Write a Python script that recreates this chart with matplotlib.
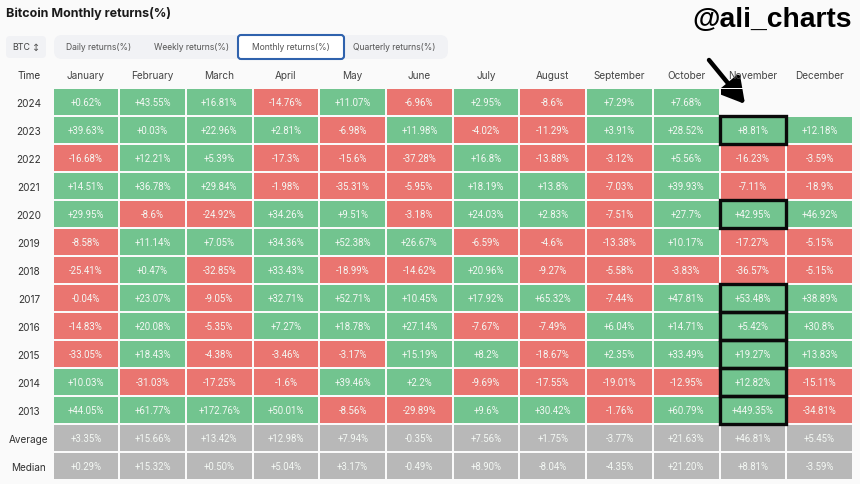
import matplotlib
matplotlib.use("Agg")
import numpy as np
import matplotlib.pyplot as plt
from matplotlib.colors import ListedColormap
from matplotlib.patches import FancyBboxPatch, Rectangle

months = ["January", "February", "March", "April", "May", "June", "July",
          "August", "September", "October", "November", "December"]
row_names = ["2024", "2023", "2022", "2021", "2020", "2019", "2018", "2017",
             "2016", "2015", "2014", "2013", "Average", "Median"]

r2024 = ["+0.62", "+43.55", "+16.81", "-14.76", "+11.07", "-6.96", "+2.95", "-8.6", "+7.29", "+7.68", "", ""]
r2023 = ["+39.63", "+0.03", "+22.96", "+2.81", "-6.98", "+11.98", "-4.02", "-11.29", "+3.91", "+28.52", "+8.81", "+12.18"]
r2022 = ["-16.68", "+12.21", "+5.39", "-17.3", "-15.6", "-37.28", "+16.8", "-13.88", "-3.12", "+5.56", "-16.23", "-3.59"]
r2021 = ["+14.51", "+36.78", "+29.84", "-1.98", "-35.31", "-5.95", "+18.19", "+13.8", "-7.03", "+39.93", "-7.11", "-18.9"]
r2020 = ["+29.95", "-8.6", "-24.92", "+34.26", "+9.51", "-3.18", "+24.03", "+2.83", "-7.51", "+27.7", "+42.95", "+46.92"]
r2019 = ["-8.58", "+11.14", "+7.05", "+34.36", "+52.38", "+26.67", "-6.59", "-4.6", "-13.38", "+10.17", "-17.27", "-5.15"]
r2018 = ["-25.41", "+0.47", "-32.85", "+33.43", "-18.99", "-14.62", "+20.96", "-9.27", "-5.58", "-3.83", "-36.57", "-5.15"]
r2017 = ["-0.04", "+23.07", "-9.05", "+32.71", "+52.71", "+10.45", "+17.92", "+65.32", "-7.44", "+47.81", "+53.48", "+38.89"]
r2016 = ["-14.83", "+20.08", "-5.35", "+7.27", "+18.78", "+27.14", "-7.67", "-7.49", "+6.04", "+14.71", "+5.42", "+30.8"]
r2015 = ["-33.05", "+18.43", "-4.38", "-3.46", "-3.17", "+15.19", "+8.2", "-18.67", "+2.35", "+33.49", "+19.27", "+13.83"]
r2014 = ["+10.03", "-31.03", "-17.25", "-1.6", "+39.46", "+2.2", "-9.69", "-17.55", "-19.01", "-12.95", "+12.82", "-15.11"]
r2013 = ["+44.05", "+61.77", "+172.76", "+50.01", "-8.56", "-29.89", "+9.6", "+30.42", "-1.76", "+60.79", "+449.35", "-34.81"]
average = ["+3.35", "+15.66", "+13.42", "+12.98", "+7.94", "-0.35", "+7.56", "+1.75", "-3.77", "+21.63", "+46.81", "+5.45"]
median = ["+0.29", "+15.32", "+0.50", "+5.04", "+3.17", "-0.49", "+8.90", "-8.04", "-4.35", "+21.20", "+8.81", "-3.59"]

rows = [r2024, r2023, r2022, r2021, r2020, r2019, r2018, r2017, r2016, r2015,
        r2014, r2013, average, median]

highlighted_years = ["2023", "2020", "2017", "2016", "2015", "2014", "2013"]
tab_names = ["Daily returns(%)", "Weekly returns(%)", "Monthly returns(%)",
             "Quarterly returns(%)"]

BG = "#fafafa"
GREEN = "#72c48f"
RED = "#ea7570"
GREY = "#b8b8b8"
W, H = 860, 485

plt.rcParams["font.family"] = ["Inter", "DejaVu Sans"]

fig = plt.figure(figsize=(W / 100, H / 100), dpi=100, facecolor=BG)

# page furniture, in pixel coordinates
bg = fig.add_axes([0, 0, 1, 1])
bg.set_xlim(0, W)
bg.set_ylim(H, 0)
bg.axis("off")

bg.text(6, 14, "Bitcoin Monthly returns(%)", fontsize=9.0, fontweight="bold",
        color="#1a1a1a", va="center")
bg.text(692, 20, "@ali_charts", fontsize=20.3, fontweight="bold", color="black",
        family="Liberation Sans", va="center")

bg.add_patch(FancyBboxPatch((9, 40), 34, 16, boxstyle="round,pad=3,rounding_size=4",
                            fc="#f1f2f5", ec="none"))
bg.text(12, 48, "BTC", fontsize=6.4, color="#444444", va="center")
bg.text(36, 48, "\u2195", fontsize=7, color="#555555", va="center", ha="center",
        family="DejaVu Sans")
bg.add_patch(FancyBboxPatch((59, 41), 384, 14, boxstyle="round,pad=5,rounding_size=8",
                            fc="#f1f2f5", ec="none"))
bg.add_patch(FancyBboxPatch((239, 37), 104, 22, boxstyle="round,pad=1,rounding_size=3",
                            fc="white", ec="#2f62ad", lw=1.5))
for name, cx in zip(tab_names, [98.5, 191.5, 291, 394.5]):
    bg.text(cx, 48, name, fontsize=6.15, color="#555555", ha="center", va="center")

# the table
ax = fig.add_axes([52.5 / W, 1 - 481 / H, 800.5 / W, 392 / H])
ax.set_facecolor("none")
codes = np.full((len(rows), len(months)), np.nan)
for i, row in enumerate(rows):
    for j, val in enumerate(row):
        if val == "":
            continue
        if row_names[i] in ("Average", "Median"):
            codes[i, j] = 2
        else:
            codes[i, j] = 0 if val.startswith("+") else 1

# gaps take the page colour so the empty 2024 cells vanish
ax.pcolormesh(np.arange(len(months) + 1), np.arange(len(rows) + 1), np.ma.masked_invalid(codes),
              cmap=ListedColormap([GREEN, RED, GREY]), vmin=0, vmax=2,
              edgecolors=BG, linewidth=1.2)
ax.set_xlim(0, len(months))
ax.set_ylim(len(rows), 0)

for i, row in enumerate(rows):
    for j, val in enumerate(row):
        if val:
            ax.text(j + 0.5, i + 0.5, val + "%", color="#f4f8f4", fontsize=6.9,
                    ha="center", va="center", family="Roboto")

ax.xaxis.tick_top()
ax.set_xticks(np.arange(len(months)) + 0.5, months, fontsize=7.2, color="#444444")
ax.set_yticks(np.arange(len(rows)) + 0.5, row_names, fontsize=7.2, color="#333333")
ax.tick_params(axis="x", length=0, pad=5.5)
ax.tick_params(axis="y", length=0, pad=0)
for lab in ax.get_yticklabels():
    lab.set_horizontalalignment("center")
    lab.set_x(-0.0294)
for s in ax.spines.values():
    s.set_visible(False)
ax.text(-23.5 / 66.7, -0.47, "Time", fontsize=7.2, color="#333333", ha="center", va="center")

nov = months.index("November")
for year in highlighted_years:
    ax.add_patch(Rectangle((nov, row_names.index(year)), 1, 1, fc="none", ec="#0a0a0a",
                           lw=2.4, clip_on=False, zorder=5))

# arrow pointing at November
bg.annotate("", xy=(745, 105), xytext=(709, 61), zorder=10,
            arrowprops=dict(arrowstyle="-|>,head_length=1.5,head_width=0.85",
                            color="black", lw=3.2, shrinkA=0, shrinkB=0))
bg.set_zorder(ax.get_zorder() - 1)

fig.savefig("out.png", dpi=100, facecolor=BG)
